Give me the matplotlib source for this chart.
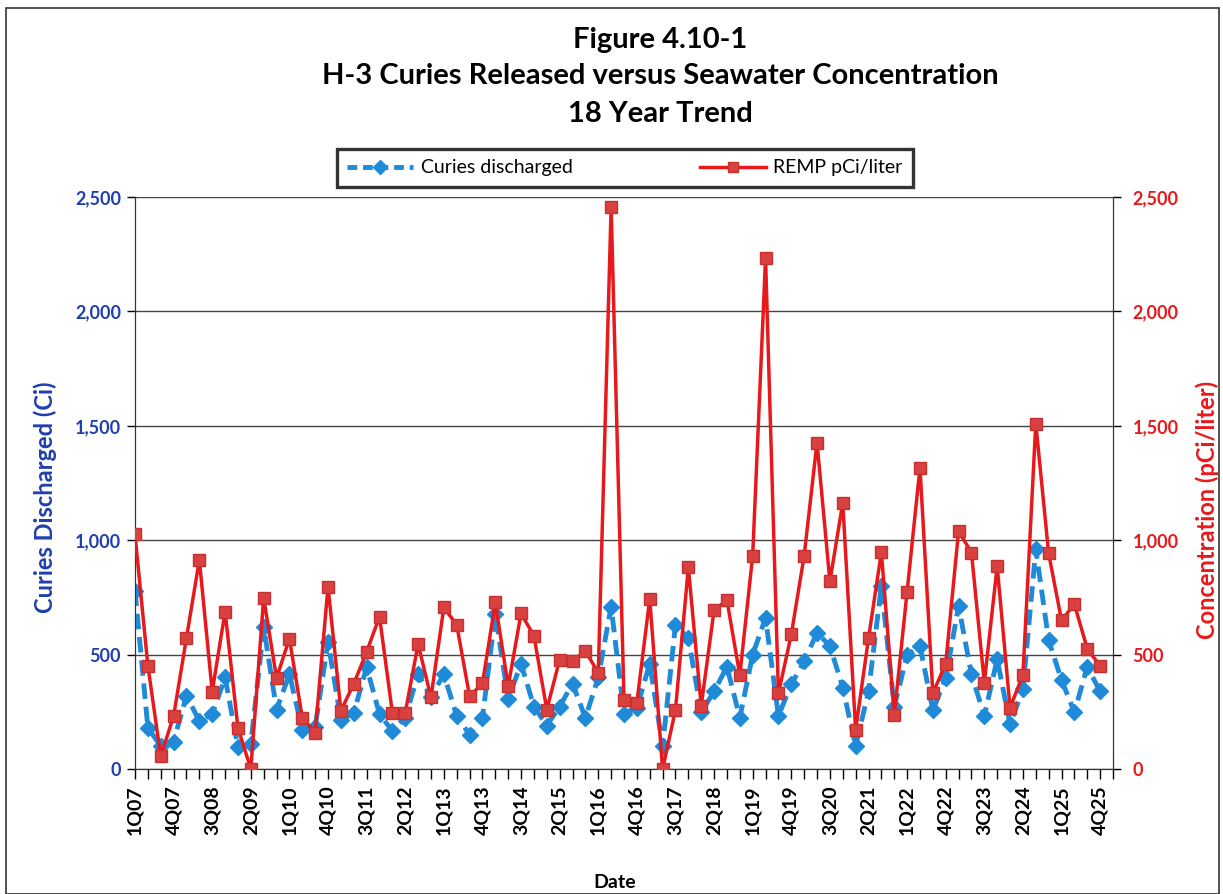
import matplotlib
matplotlib.use("Agg")
import matplotlib.pyplot as plt
from matplotlib.patches import Rectangle
from matplotlib.lines import Line2D

plt.rcParams['font.family'] = ['Lato', 'DejaVu Sans']

years = list(range(7, 26))
quarters = [f"{q}Q{y:02d}" for y in years for q in range(1, 5)]

curies = [780, 180, 100, 120, 320, 210, 240, 400, 95, 110, 620, 260,
          414, 170, 185, 555, 215, 245, 445, 240, 166, 225, 415, 315,
          414, 232, 150, 224, 679, 306, 460, 273, 190, 273, 373, 224,
          400, 710, 240, 268, 460, 100, 630, 571, 248, 339, 447, 224,
          500, 660, 232, 370, 470, 596, 538, 356, 100, 339, 800, 273,
          497, 538, 257, 397, 712, 414, 232, 480, 195, 348, 960, 563,
          389, 248, 447, 339]

remp = [1025, 452, 55, 232, 573, 914, 338, 688, 180, 0, 748, 398,
        570, 224, 158, 797, 255, 372, 512, 666, 246, 246, 546, 313,
        706, 630, 318, 374, 728, 362, 680, 582, 260, 478, 472, 516,
        420, 2456, 302, 290, 744, 0, 258, 882, 276, 694, 738, 410,
        932, 2232, 330, 588, 932, 1427, 820, 1164, 170, 571, 948, 235,
        775, 1317, 331, 460, 1040, 946, 378, 886, 268, 411, 1510, 942,
        650, 720, 526, 450]

yticks = [0, 500, 1000, 1500, 2000, 2500]

BLUE = '#1f8ad8'
BLUE_TXT = '#1f3fae'
RED = '#e8191c'
RED_MK = '#d94040'

W, H = 1223, 894
fig = plt.figure(figsize=(W / 100, H / 100), dpi=100)

# outer frame
fig.patches.append(Rectangle((6 / W, 0), (W - 10) / W, (H - 8) / H, transform=fig.transFigure,
                             fill=False, edgecolor='#333333', linewidth=1.2))

left, right, top, bottom = 135, 1113, 197, 769
ax = fig.add_axes([left / W, (H - bottom) / H, (right - left) / W, (bottom - top) / H])
ax2 = ax.twinx()

x = list(range(len(quarters)))
ax.plot(x, curies, color=BLUE, linestyle=(0, (3.2, 1.6)), linewidth=3.5,
        marker='D', markersize=8.5, markerfacecolor=BLUE, markeredgecolor=BLUE, zorder=3)
ax2.plot(x, remp, color=RED, linestyle='-', linewidth=2.5,
         marker='s', markersize=8, markerfacecolor=RED_MK, markeredgecolor='#c83030', zorder=4)

for a in (ax, ax2):
    a.set_ylim(0, 2500)
    a.set_yticks(yticks)
    a.set_xlim(0, len(quarters))

ax.set_yticklabels([f"{v:,}" for v in yticks], color=BLUE_TXT, fontweight='bold', fontsize=13)
ax2.set_yticklabels([f"{v:,}" for v in yticks], color=RED, fontweight='bold', fontsize=13)

ax.set_xticks(range(0, len(quarters) + 1), minor=True)
ax.set_xticks(range(0, len(quarters), 3))
ax.set_xticklabels(quarters[::3], rotation=90, fontweight='bold', fontsize=14)
ax.tick_params(axis='x', which='both', length=7, width=1, direction='out', pad=5)
ax.tick_params(axis='y', length=6, width=1, pad=4)
ax2.tick_params(axis='y', length=6, width=1, pad=8)

ax.grid(axis='y', color='#444444', linewidth=1)
ax.set_axisbelow(True)
for s in ('top',):
    ax.spines[s].set_visible(False)
    ax2.spines[s].set_visible(False)
for a in (ax, ax2):
    for s in ('left', 'right', 'bottom'):
        a.spines[s].set_color('#333333')

fig.text(45 / W, 1 - 497 / H, 'Curies Discharged (Ci)', color=BLUE_TXT, fontweight='bold',
         fontsize=17, rotation=90, ha='center', va='center')
fig.text(1207 / W, 1 - 510 / H, 'Concentration (pCi/liter)', color=RED, fontweight='bold',
         fontsize=17, rotation=90, ha='center', va='center')
fig.text(615 / W, 1 - 882 / H, 'Date', fontweight='bold', fontsize=14, ha='center', va='center')

# titles
fig.text(660 / W, 1 - 40 / H, 'Figure 4.10-1', ha='center', va='center', fontsize=21, fontweight='bold')
fig.text(660 / W, 1 - 76 / H, 'H-3 Curies Released versus Seawater Concentration', ha='center', va='center',
         fontsize=21, fontweight='bold')
fig.text(660 / W, 1 - 114 / H, '18 Year Trend', ha='center', va='center', fontsize=21, fontweight='bold')

handles = [Line2D([], [], color=BLUE, linestyle=(0, (2, 1.2)), linewidth=3.5, marker='D', markersize=7.5),
           Line2D([], [], color=RED, linestyle='-', linewidth=2.5, marker='s', markersize=7,
                  markerfacecolor=RED_MK, markeredgecolor='#c83030')]
leg = fig.legend(handles, ['Curies discharged', 'REMP pCi/liter'], loc='center',
                 bbox_to_anchor=(625 / W, 1 - 168 / H), ncol=2, fontsize=14, frameon=True,
                 fancybox=False, edgecolor='black', handlelength=3.4, columnspacing=6.5,
                 borderpad=0.55, handletextpad=0.4, borderaxespad=0)
leg.get_frame().set_linewidth(2.4)

fig.savefig('out.png', dpi=100)
